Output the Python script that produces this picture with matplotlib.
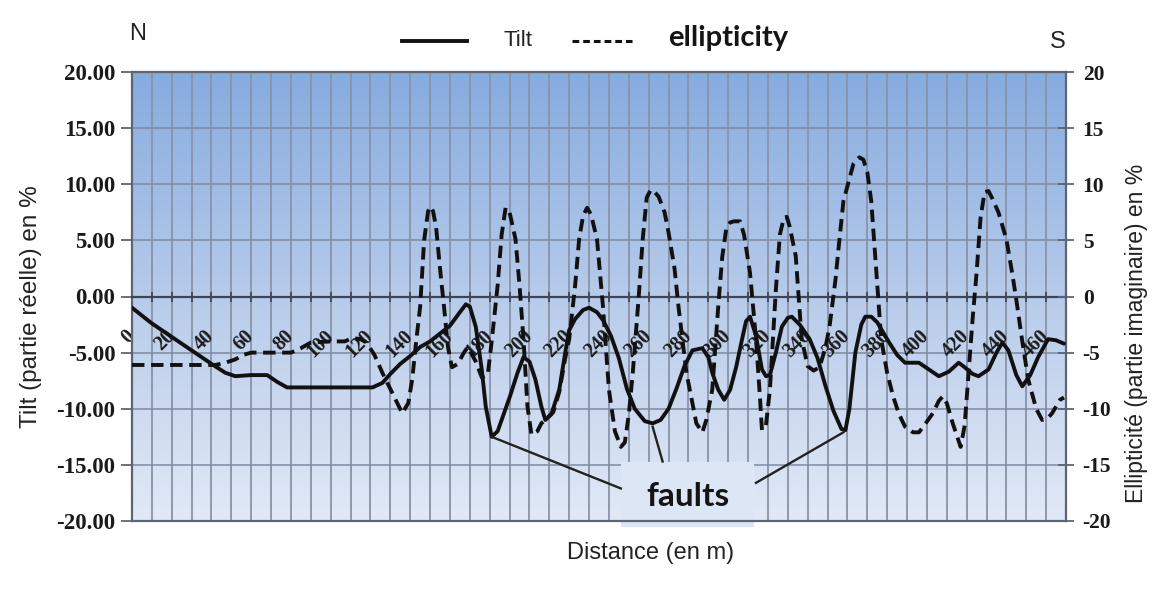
import numpy as np
import matplotlib

matplotlib.use("Agg")
import matplotlib.pyplot as plt
from matplotlib.colors import LinearSegmentedColormap
from matplotlib.lines import Line2D
from matplotlib.patches import Rectangle

# Tilt (solid line), distance in m and value in %
tilt_x = [0, 10, 20, 30, 40, 47, 52, 60, 68, 73, 78, 90, 100, 110, 121, 126, 130,
          135, 140, 145, 150, 155, 160, 165, 168, 170, 173, 176, 178, 181, 184, 187,
          190, 194, 197, 200, 203, 206, 208, 211, 215, 218, 220, 223, 227, 230, 234,
          237, 241, 245, 249, 253, 258, 262, 266, 270, 274, 278, 282, 287, 290, 292,
          295, 298, 301, 304, 307, 309, 311, 314, 317, 319, 321, 324, 327, 330, 332,
          336, 341, 345, 349, 353, 357, 359, 361, 364, 367, 369, 372, 375, 378, 381,
          385, 389, 396, 401, 406, 411, 416, 419, 423, 426, 431, 435, 438, 441, 445,
          448, 452, 456, 461, 465, 469]
tilt_y = [-1.0, -2.4, -3.6, -4.8, -6.0, -6.8, -7.1, -7.0, -7.0, -7.6, -8.1, -8.1,
          -8.1, -8.1, -8.1, -7.7, -6.9, -6.0, -5.3, -4.5, -4.0, -3.3, -2.6, -1.4,
          -0.7, -0.9, -2.7, -6.5, -9.8, -12.5, -12.0, -10.5, -9.0, -6.8, -5.4, -5.8,
          -7.4, -9.8, -11.0, -10.5, -8.3, -5.0, -3.0, -2.0, -1.2, -1.0, -1.4, -2.1,
          -3.5, -5.5, -8.2, -10.0, -11.1, -11.3, -11.0, -10.0, -8.2, -6.2, -4.8,
          -4.6, -5.4, -6.8, -8.3, -9.2, -8.3, -6.3, -3.8, -2.2, -1.8, -3.5, -6.5,
          -7.1, -7.0, -5.0, -2.7, -1.9, -1.8, -2.5, -3.8, -5.5, -8.0, -10.2, -11.8,
          -11.9, -10.0, -5.0, -2.5, -1.8, -1.8, -2.3, -3.2, -4.1, -5.2, -5.9, -5.9,
          -6.5, -7.1, -6.7, -5.9, -6.3, -6.9, -7.1, -6.5, -5.0, -4.1, -4.8, -7.0,
          -8.0, -7.0, -5.4, -3.8, -3.9, -4.2]

# Ellipticity (dashed line)
ell_x = [0, 10, 20, 30, 42, 47, 52, 56, 60, 70, 80, 85, 90, 100, 107, 111, 115,
         118, 122, 126, 131, 136, 139, 141, 143, 145, 147, 149, 150, 151.5, 153,
         155, 157, 159, 161, 164, 167, 169, 173, 176, 179, 181, 184, 186, 188, 190,
         193, 195, 197, 199, 201, 204, 206, 209, 212, 215, 218, 220, 223, 225, 227,
         229, 231, 234, 237, 240, 243, 246, 248, 250, 252, 255, 257, 259, 261, 263,
         265, 268, 270, 273, 275, 279, 282, 284, 287, 289, 292, 295, 297, 299, 301,
         303, 306, 308, 311, 314, 316, 317, 319, 321, 324, 326, 328, 329.5, 331,
         334, 337, 340, 343, 346, 349, 351, 354, 356, 358, 361, 363, 366, 368, 370,
         372, 374, 377, 380, 383, 386, 389, 393, 396, 399, 403, 406, 408, 410, 413,
         417, 419, 421, 423, 425, 427, 429, 431, 433, 436, 440, 443, 445, 448, 451,
         455, 458, 461, 463, 467, 469]
ell_y = [-6.1, -6.1, -6.1, -6.1, -6.1, -5.9, -5.6, -5.2, -5.0, -5.0, -5.0, -4.6,
         -4.1, -4.0, -4.0, -3.7, -3.8, -4.1, -5.2, -6.8, -8.6, -10.4, -9.5, -7.4,
         -4.0, -0.9, 5.0, 7.6, 8.0, 7.6, 6.2, 2.5, -0.9, -4.5, -6.3, -6.0, -5.0,
         -4.5, -5.8, -7.2, -7.0, -4.0, 1.0, 5.5, 7.9, 7.5, 5.1, 1.0, -3.8, -9.8,
         -12.3, -12.0, -11.3, -10.8, -10.3, -8.5, -5.5, -3.8, 1.0, 5.1, 7.2, 7.9,
         7.3, 5.1, -0.9, -8.3, -12.0, -13.4, -13.0, -10.5, -6.8, 0.0, 5.1, 8.8, 9.5,
         9.3, 8.9, 7.5, 5.7, 2.5, -0.9, -6.8, -9.5, -11.3, -12.1, -11.0, -8.3, -0.9,
         3.5, 6.0, 6.6, 6.7, 6.7, 5.5, 2.1, -3.8, -9.0, -11.9, -11.5, -8.3, 0.6, 5.5,
         7.0, 7.1, 6.2, 3.6, -3.8, -6.2, -6.6, -6.3, -4.5, -2.7, 1.5, 5.1, 8.5, 10.5,
         11.8, 12.4, 12.2, 11.1, 8.5, 3.6, -3.8, -6.8, -8.9, -10.5, -11.6, -12.1,
         -12.1, -11.4, -10.4, -9.3, -8.9, -9.5, -11.3, -13.4, -11.5, -6.8, -2.0, 2.1,
         7.0, 9.3, 9.4, 8.7, 7.5, 5.1, 2.0, -0.3, -4.0, -7.4, -10.0, -11.0, -10.8,
         -10.4, -9.2, -9.0]

# Axis ticks
x_ticks = list(range(0, 461, 20))
y_ticks = list(range(-20, 21, 5))

# Fault annotation: (point on curve, point on the label box)
fault_links = [((181, -12.5), (246, -17.1)),
               ((262, -11.6), (267, -14.7)),
               ((358, -12.1), (314, -16.6))]

W, H = 1161, 589
SERIF = ["Liberation Serif", "DejaVu Serif"]
SANS = ["Liberation Sans", "DejaVu Sans"]


def fx(px):
    return px / W


def fy(py):
    return 1 - py / H


def main():
    fig = plt.figure(figsize=(W / 100, H / 100), dpi=100)
    ax = fig.add_axes([fx(132), fy(521), 934 / W, 449 / H])
    ax.set_xlim(0, 470)
    ax.set_ylim(-20, 20)

    # blue gradient background
    cmap = LinearSegmentedColormap.from_list("bg", ["#86abdf", "#b7cbea", "#e2e9f6"])
    grad = np.linspace(0, 1, 256).reshape(-1, 1)
    ax.imshow(grad, cmap=cmap, extent=(0, 470, -20, 20), aspect="auto",
              origin="upper", zorder=0)

    # grid
    for x in range(10, 470, 10):
        ax.axvline(x, color="#8893a6", lw=1.3, zorder=1)
    for y in y_ticks[1:-1]:
        if y != 0:
            ax.axhline(y, color="#7d8aa0", lw=1.1, zorder=1)

    # curves
    ax.plot(tilt_x, tilt_y, color="#111111", lw=2.8, zorder=5,
            solid_joinstyle="round", solid_capstyle="round")
    ax.plot(ell_x, ell_y, color="#111111", lw=2.8, zorder=5,
            dashes=(3.2, 1.7), dash_joinstyle="round")

    # x axis sits on the zero line
    ax.spines["bottom"].set_position(("data", 0))
    ax.spines["bottom"].set_color("#3e4656")
    ax.spines["bottom"].set_linewidth(1.6)
    ax.set_xticks(x_ticks)
    ax.set_xticks(range(10, 470, 20), minor=True)
    ax.tick_params(axis="x", which="both", direction="inout", length=7,
                   color="#3e4656", width=1.3, pad=23)
    ax.set_xticklabels([str(v) for v in x_ticks])
    for lab in ax.get_xticklabels():
        lab.set_rotation(45)
        lab.set_ha("right")
        lab.set_va("center")
        lab.set_rotation_mode("anchor")
        lab.set_family(SERIF)
        lab.set_fontweight("bold")
        lab.set_fontsize(14.5)
        lab.set_color("#1a1a1a")
    ax.axhline(-20, color="#5d6574", lw=1.6, zorder=6, clip_on=False)

    ax.set_yticks(y_ticks)
    ax.set_yticklabels([f"{v:.2f}" for v in y_ticks], family=SERIF,
                       fontweight="bold", fontsize=16.5, color="#1a1a1a")
    ax.tick_params(axis="y", direction="out", length=8, color="#5d6574", width=1.3, pad=4)
    for side in ["left", "right", "top"]:
        ax.spines[side].set_color("#5d6574")
        ax.spines[side].set_linewidth(1.6)

    ax2 = ax.twinx()
    ax2.set_ylim(-20, 20)
    ax2.set_yticks(y_ticks)
    ax2.set_yticklabels([str(v) for v in y_ticks], family=SERIF,
                        fontweight="bold", fontsize=15.5, color="#1a1a1a")
    ax2.tick_params(axis="y", direction="inout", length=12, color="#5d6574",
                    width=1.3, pad=6)
    for s in ax2.spines.values():
        s.set_visible(False)

    # faults label box and links
    ax.add_patch(Rectangle((246, -20.5), 67, 5.8, facecolor="#dde6f4",
                           edgecolor="none", zorder=4, clip_on=False))
    ax.text(280, -17.8, "faults", ha="center", va="center", fontsize=24,
            family=["Lato", "DejaVu Sans"], fontweight="bold", color="#151515",
            zorder=7)
    for (p0, p1) in fault_links:
        ax.plot([p0[0], p1[0]], [p0[1], p1[1]], color="#222222", lw=1.7, zorder=6)

    # axis titles
    fig.text(fx(651), fy(553), "Distance (en m)", ha="center", va="center",
             fontsize=17, family=SANS, color="#222222")
    fig.text(fx(31), fy(307), "Tilt (partie réelle) en %", ha="center",
             va="center", rotation=90, fontsize=17.5, family=SANS, color="#222222")
    fig.text(fx(1137), fy(333), "Ellipticité (partie imaginaire) en %",
             ha="center", va="center", rotation=90, fontsize=16.5, family=SANS,
             color="#222222")
    fig.text(fx(138), fy(34), "N", ha="center", va="center", fontsize=17,
             family=SANS, color="#222222")
    fig.text(fx(1058), fy(42), "S", ha="center", va="center", fontsize=17,
             family=SANS, color="#222222")

    # legend drawn by hand at the top
    fig.add_artist(Line2D([fx(402), fx(467)], [fy(41), fy(41)], color="#111111", lw=2.8))
    fig.text(fx(503), fy(40), "Tilt", ha="left", va="center", fontsize=16,
             family=SANS, color="#222222")
    fig.add_artist(Line2D([fx(572), fx(632)], [fy(41), fy(41)], color="#111111",
                          lw=2.2, dashes=(2.2, 1.3)))
    fig.text(fx(668), fy(38), "ellipticity", ha="left", va="center", fontsize=21,
             family=["Lato", "DejaVu Sans"], fontweight="bold", color="#151515")

    fig.savefig("out.png", dpi=100, facecolor="white")


if __name__ == "__main__":
    main()
